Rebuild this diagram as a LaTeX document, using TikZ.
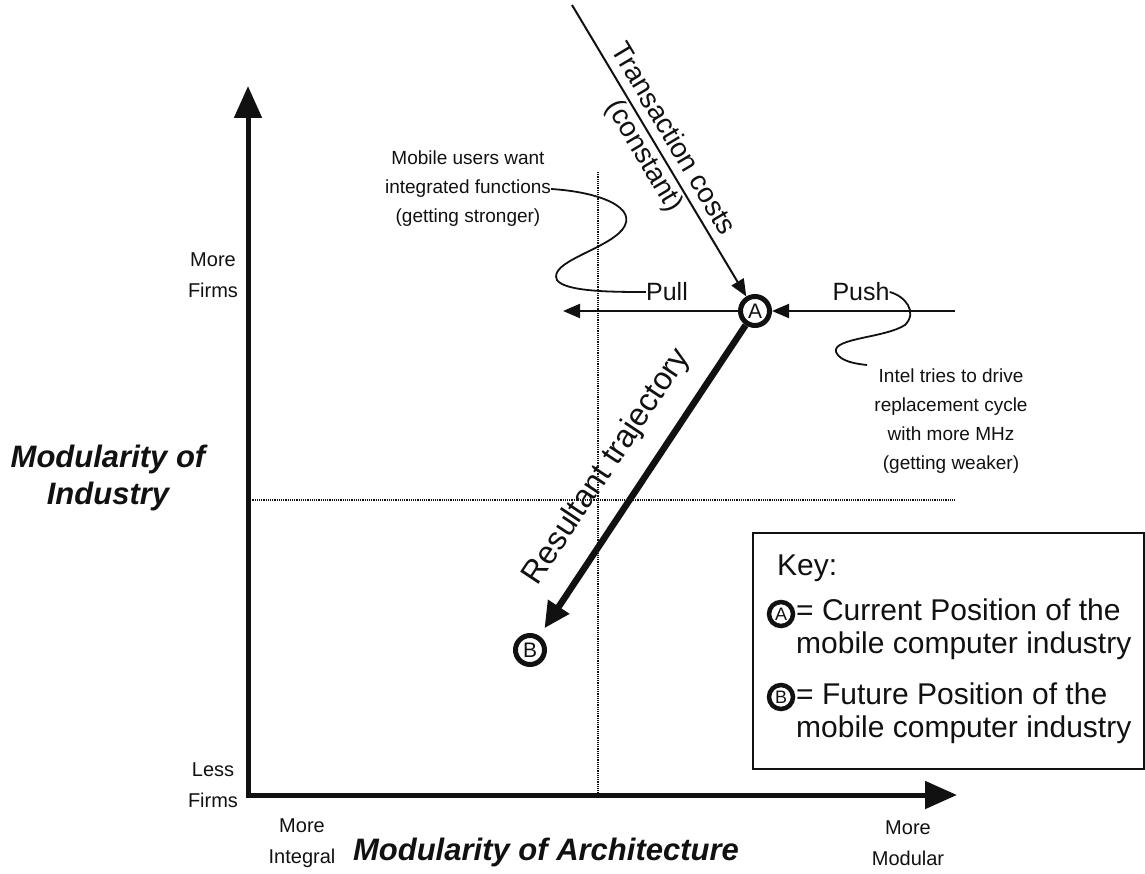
\documentclass[tikz,border=0pt]{standalone}
\usepackage{fontspec}
\setmainfont{Liberation Sans}
\usetikzlibrary{arrows.meta,calc}
\definecolor{mcInk}{HTML}{111111}
\newcommand{\MCType}[2]{\fontsize{#1}{#2}\selectfont}
\tikzset{mc/base/.style={x=1pt,y=1pt,line cap=butt,line join=miter,
  every node/.style={inner sep=0pt,text=mcInk}},
  mc/axis/.style={{Triangle[length=32pt,width=27pt]}-{Triangle[length=32pt,width=27pt]},
    draw=mcInk,line width=5pt},
  mc/force/.style={-{Triangle[length=17pt,width=14pt]},draw=mcInk,line width=2pt},
  mc/result/.style={-{Triangle[length=26pt,width=24pt]},draw=mcInk,line width=6.5pt},
  mc/guide/.style={draw=mcInk,line width=1.2pt,densely dotted},
  mc/callout/.style={draw=mcInk,line width=1.8pt},
  mc/point/.style={circle,draw=mcInk,fill=white,line width=5pt,minimum size=29pt,
    font=\MCType{21}{21}},
  mc/keypoint/.style={mc/point,minimum size=24pt,line width=4.5pt,font=\MCType{18}{18}},
  mc/note/.style={align=center,font=\MCType{19}{29}},
  mc/tick/.style={align=center,font=\MCType{20}{31}},
  mc/title/.style={align=center,font=\MCType{31}{37}\bfseries\itshape},
  mc/key/.style={anchor=west,align=left,font=\MCType{30}{33}}}

\begin{document}
\begin{tikzpicture}[mc/base,y=-1pt]
  \useasboundingbox (0,0) rectangle (1145,874);
  \coordinate (orig) at (248,795);
  \coordinate (yTip) at (248,86);
  \coordinate (xTip) at (957,795);
  % quadrant guides, behind everything else
  \draw[mc/guide] (598,172) -- (598,795);
  \draw[mc/guide] (248,500) -- (955,500);
  \draw[mc/axis] (yTip) -- (orig) -- (xTip);
  \node[mc/tick] (moreFirms) at (213,275) {More\\Firms};
  \node[mc/tick] (lessFirms) at (213,785) {Less\\Firms};
  \node[mc/tick] (moreIntegral) at (302,843) {More\\Integral};
  \node[mc/tick] (moreModular) at (908,843) {More\\Modular};
  \node[mc/title] (yTitle) at (108,478) {Modularity of\\Industry};
  \node[mc/title] (xTitle) at (546,852) {Modularity of Architecture};
  % the two positions and the forces on A
  \node[mc/point] (ptA) at (755,311) {A};
  \node[mc/point] (ptB) at (530,650) {B};
  \coordinate (tcStart) at (572,5);
  \coordinate (pullEnd) at (563,311);
  \coordinate (pushStart) at (955,311);
  \draw[mc/force] (tcStart) -- (ptA);
  \draw[mc/force] (ptA) -- (pullEnd);
  \draw[mc/force] (pushStart) -- (ptA);
  \draw[mc/result,shorten >=9pt] (ptA) -- (ptB);
  \node[font=\MCType{25}{30}] (pullLbl) at (667,292) {Pull};
  \node[font=\MCType{25}{30}] (pushLbl) at (861,292) {Push};
  \node[align=center,font=\MCType{28}{33},rotate=-59.2] (tcLbl) at (658,148)
    {Transaction costs\\(constant)};
  \node[font=\MCType{32}{34},rotate=56.4] (resLbl) at (607,467) {Resultant trajectory};
  % notes with their wavy leaders
  \node[mc/note] (mobileNote) at (468,189)
    {Mobile users want\\integrated functions\\(getting stronger)};
  \node[mc/note] (intelNote) at (951,421)
    {Intel tries to drive\\replacement cycle\\with more MHz\\(getting weaker)};
  \coordinate (intelTip) at (867,365);
  \draw[mc/callout] (mobileNote.east) .. controls (600,192) and (640,208) .. (622,230)
    .. controls (605,250) and (548,262) .. (557,280)
    .. controls (565,292) and (615,292) .. (pullLbl.west);
  \draw[mc/callout] (pushLbl.east) .. controls (905,296) and (918,312) .. (905,325)
    .. controls (885,338) and (832,338) .. (836,352)
    .. controls (840,362) and (858,364) .. (intelTip);
  % key
  \node[draw=mcInk,line width=1.8pt,anchor=north west,minimum width=391pt,
    minimum height=236pt] (keyBox) at (752,532) {};
  \node[mc/key] (keyHead) at (777,568) {Key:};
  \node[mc/keypoint] (keyA) at (781,614) {A};
  \node[mc/key] (keyAText) at (796,629) {= Current Position of the\\mobile computer industry};
  \node[mc/keypoint] (keyB) at (781,697) {B};
  \node[mc/key] (keyBText) at (796,713) {= Future Position of the\\mobile computer industry};
\end{tikzpicture}
\end{document}
